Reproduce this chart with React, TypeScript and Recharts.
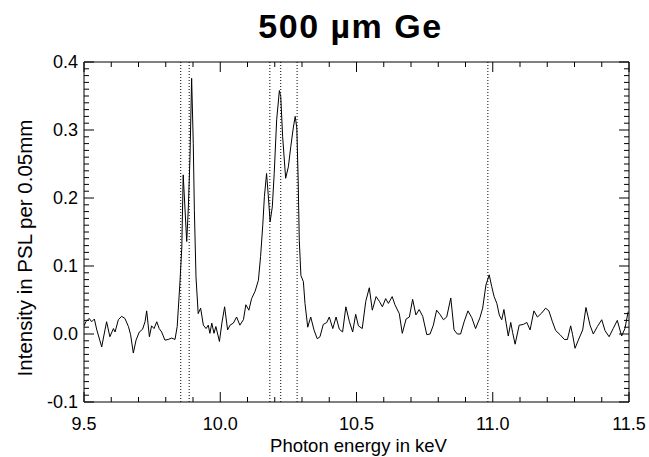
import React from 'react';
import { LineChart, Line, XAxis, YAxis, ReferenceLine } from 'recharts';

// photon energy (keV) and intensity (PSL per 0.05mm)
const energy = [
  9.5, 9.507, 9.519, 9.528, 9.538, 9.547, 9.565, 9.577, 9.583, 9.595, 9.608, 9.614, 9.626, 9.638, 9.65,
  9.663, 9.671, 9.681, 9.691, 9.703, 9.715, 9.724, 9.73, 9.74, 9.748, 9.757, 9.767, 9.776, 9.785, 9.797,
  9.809, 9.822, 9.834, 9.842, 9.852, 9.859, 9.864, 9.877, 9.883, 9.889, 9.895, 9.901, 9.905, 9.911, 9.919,
  9.928, 9.938, 9.948, 9.956, 9.962, 9.969, 9.977, 9.984, 9.997, 10.006, 10.016, 10.027, 10.036, 10.048,
  10.06, 10.072, 10.085, 10.094, 10.105, 10.115, 10.128, 10.14, 10.148, 10.156, 10.162, 10.17, 10.176,
  10.183, 10.191, 10.198, 10.207, 10.217, 10.222, 10.229, 10.24, 10.25, 10.259, 10.268, 10.275, 10.281,
  10.286, 10.29, 10.296, 10.305, 10.311, 10.321, 10.332, 10.344, 10.356, 10.366, 10.378, 10.391, 10.4,
  10.413, 10.425, 10.437, 10.449, 10.461, 10.474, 10.486, 10.497, 10.507, 10.521, 10.534, 10.547, 10.558,
  10.572, 10.584, 10.595, 10.607, 10.617, 10.631, 10.641, 10.657, 10.668, 10.682, 10.694, 10.706, 10.718,
  10.73, 10.743, 10.758, 10.77, 10.782, 10.794, 10.806, 10.819, 10.831, 10.846, 10.858, 10.87, 10.882,
  10.895, 10.909, 10.923, 10.937, 10.953, 10.963, 10.975, 10.987, 10.996, 11.005, 11.015, 11.024, 11.033,
  11.041, 11.049, 11.057, 11.066, 11.073, 11.082, 11.097, 11.112, 11.125, 11.137, 11.151, 11.164, 11.18,
  11.194, 11.206, 11.219, 11.231, 11.247, 11.263, 11.274, 11.286, 11.293, 11.302, 11.314, 11.33, 11.342,
  11.357, 11.369, 11.384, 11.4, 11.412, 11.427, 11.442, 11.457, 11.473, 11.485, 11.497,
];
const intensity = [
  0.012, 0.018, 0.023, 0.018, 0.022, 0.006, -0.019, 0.006, 0.018, -0.004, 0.008, 0.003, 0.021, 0.026, 0.023,
  0.011, -0.001, -0.028, -0.009, 0.003, 0.007, 0.018, 0.034, -0.004, 0.012, 0.008, 0.018, 0.008, 0.003, -0.009,
  -0.008, -0.006, -0.008, 0.011, 0.075, 0.128, 0.234, 0.136, 0.187, 0.261, 0.376, 0.28, 0.182, 0.084, 0.03,
  0.038, 0.013, 0.008, 0.013, 0.001, 0.016, 0.001, 0.011, -0.011, 0.016, 0.04, 0.006, 0.013, 0.016,
  0.025, 0.013, 0.021, 0.043, 0.035, 0.052, 0.063, 0.079, 0.114, 0.16, 0.202, 0.236, 0.205,
  0.165, 0.187, 0.236, 0.315, 0.358, 0.349, 0.29, 0.229, 0.246, 0.276, 0.303, 0.32, 0.303,
  0.226, 0.138, 0.086, 0.077, 0.045, 0.01, 0.025, 0.006, -0.007, -0.004, 0.014, 0.017, 0.025,
  0.008, 0.025, 0.007, 0.003, 0.04, 0.018, 0.003, 0.029, 0.012, 0.008, 0.048, 0.068, 0.035,
  0.055, 0.048, 0.04, 0.052, 0.045, 0.055, 0.043, 0.03, 0.001, 0.022, 0.025, 0.051, 0.028,
  0.036, 0.026, -0.001, 0.0, 0.013, 0.035, 0.029, 0.021, 0.025, 0.053, 0.006, 0.0, 0.0,
  0.018, 0.034, 0.024, 0.008, 0.024, 0.038, 0.072, 0.087, 0.07, 0.055, 0.045, 0.028, 0.021,
  0.036, 0.016, -0.003, 0.017, 0.002, -0.015, 0.013, 0.014, 0.017, 0.006, 0.034, 0.025, 0.031,
  0.038, 0.034, 0.018, 0.005, -0.001, -0.008, -0.008, 0.012, -0.001, -0.021, -0.009, 0.006, 0.039,
  0.013, 0.0, 0.011, 0.021, 0.005, -0.004, 0.008, 0.02, -0.003, 0.008, 0.033,
];

// dotted line positions (keV)
const markerEnergies = [9.855, 9.886, 10.182, 10.222, 10.282, 10.982];

const xMajorTicks = [9.5, 10.0, 10.5, 11.0, 11.5];
const yMajorTicks = [-0.1, 0.0, 0.1, 0.2, 0.3, 0.4];

const data = energy.map((e, i) => ({ e, v: intensity[i] }));

// minor ticks: 0.1 keV on x, 0.01 on y
const xTicks: number[] = [];
for (let i = 0; i <= 20; i++) xTicks.push(Math.round(95 + i) / 10);
const yTicks: number[] = [];
for (let i = -10; i <= 40; i++) yTicks.push(i / 100);

const isMajor = (majors: number[], v: number) => majors.some((m) => Math.abs(m - v) < 1e-6);

const FONT = '"Liberation Sans", Arial, Helvetica, sans-serif';

// IDL style ticks: drawn inward from the frame, labels only on left/bottom
const makeTick = (side: 'bottom' | 'top' | 'left' | 'right', majors: number[]) => (props: any) => {
  const { x, y, payload } = props;
  const major = isMajor(majors, payload.value);
  const len = major ? 10 : 5;
  let x2 = x;
  let y2 = y;
  if (side === 'bottom') y2 = y - len;
  if (side === 'top') y2 = y + len;
  if (side === 'left') x2 = x + len;
  if (side === 'right') x2 = x - len;
  return (
    <g>
      <line x1={x} y1={y} x2={x2} y2={y2} stroke="#000" strokeWidth={1} />
      {major && side === 'bottom' && (
        <text x={x} y={y + 28} textAnchor="middle" fontSize={18} fontFamily={FONT} fill="#000">
          {payload.value.toFixed(1)}
        </text>
      )}
      {major && side === 'left' && (
        <text x={x - 6} y={y + 6} textAnchor="end" fontSize={18} fontFamily={FONT} fill="#000">
          {payload.value.toFixed(1)}
        </text>
      )}
    </g>
  );
};

const TitleLabel = (props: any) => {
  const vb = props.viewBox;
  return (
    <text x={vb.x + vb.width / 2 - 6} y={vb.y + vb.height - 24} textAnchor="middle" fontSize={34} letterSpacing={1.5} fontWeight="bold" fontFamily={FONT} fill="#000">
      500 µm Ge
    </text>
  );
};

const XLabel = (props: any) => {
  const vb = props.viewBox;
  return (
    <text x={vb.x + vb.width / 2 + 2} y={vb.y + 50} textAnchor="middle" fontSize={18.5} fontFamily={FONT} fill="#000">
      Photon energy in keV
    </text>
  );
};

const YLabel = (props: any) => {
  const vb = props.viewBox;
  const cx = vb.x + vb.width - 52;
  const cy = vb.y + vb.height / 2 + 16;
  return (
    <text x={cx} y={cy} transform={`rotate(-90 ${cx} ${cy})`} textAnchor="middle" fontSize={20.5} fontFamily={FONT} fill="#000">
      Intensity in PSL per 0.05mm
    </text>
  );
};

const App: React.FC = () => {
  return (
    <div style={{ position: 'absolute', left: 0, top: 0, background: '#fff' }}>
      <LineChart width={649} height={457} data={data} margin={{ top: 12, right: 10, bottom: 5, left: 4 }}>
        <XAxis
          dataKey="e"
          type="number"
          domain={[9.5, 11.5]}
          allowDataOverflow
          ticks={xTicks}
          interval={0}
          height={50}
          tickSize={0}
          tickMargin={0}
          tickLine={false}
          axisLine={{ stroke: '#000' }}
          tick={makeTick('bottom', xMajorTicks)}
          label={{ content: XLabel }}
        />
        <XAxis
          xAxisId="t"
          dataKey="e"
          type="number"
          orientation="top"
          domain={[9.5, 11.5]}
          allowDataOverflow
          ticks={xTicks}
          interval={0}
          height={50}
          tickSize={0}
          tickMargin={0}
          tickLine={false}
          axisLine={{ stroke: '#000' }}
          tick={makeTick('top', xMajorTicks)}
          label={{ content: TitleLabel }}
        />
        <YAxis
          type="number"
          domain={[-0.1, 0.4]}
          allowDataOverflow
          ticks={yTicks}
          interval={0}
          width={80}
          tickSize={0}
          tickMargin={0}
          tickLine={false}
          axisLine={{ stroke: '#000' }}
          tick={makeTick('left', yMajorTicks)}
          label={{ content: YLabel }}
        />
        <YAxis
          yAxisId="r"
          orientation="right"
          type="number"
          domain={[-0.1, 0.4]}
          allowDataOverflow
          ticks={yTicks}
          interval={0}
          width={10}
          tickSize={0}
          tickMargin={0}
          tickLine={false}
          axisLine={{ stroke: '#000' }}
          tick={makeTick('right', yMajorTicks)}
        />
        {markerEnergies.map((m) => (
          <ReferenceLine key={m} x={m} stroke="#000" strokeWidth={1} strokeDasharray="1 2" />
        ))}
        <Line type="linear" dataKey="v" stroke="#000" strokeWidth={1} dot={false} isAnimationActive={false} />
      </LineChart>
    </div>
  );
};

export default App;
